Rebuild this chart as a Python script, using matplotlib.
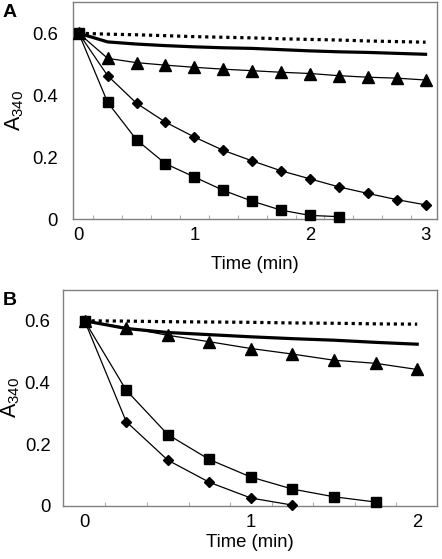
import matplotlib
matplotlib.use('Agg')
import matplotlib.pyplot as plt

plt.rcParams['font.family'] = ['Liberation Sans', 'DejaVu Sans']
plt.rcParams['mathtext.default'] = 'regular'

# panel A data
tA = [0, 0.25, 0.5, 0.75, 1.0, 1.25, 1.5, 1.75, 2.0, 2.25, 2.5, 2.75, 3.0]
a_square = [0.6, 0.377, 0.256, 0.179, 0.136, 0.093, 0.058, 0.029, 0.012, 0.008]
a_diamond = [0.6, 0.463, 0.374, 0.313, 0.265, 0.222, 0.188, 0.156, 0.130, 0.104, 0.083, 0.063, 0.046]
a_triangle = [0.6, 0.519, 0.505, 0.497, 0.490, 0.484, 0.479, 0.474, 0.470, 0.463, 0.458, 0.455, 0.449]
a_solid = [0.6, 0.572, 0.565, 0.560, 0.556, 0.553, 0.551, 0.547, 0.543, 0.540, 0.538, 0.535, 0.532]
a_dotted = [0.6, 0.597, 0.595, 0.592, 0.589, 0.587, 0.585, 0.582, 0.580, 0.578, 0.575, 0.573, 0.571]

# panel B data
tB = [0, 0.25, 0.5, 0.75, 1.0, 1.25, 1.5, 1.75, 2.0]
b_square = [0.6, 0.375, 0.231, 0.150, 0.093, 0.054, 0.029, 0.012]
b_diamond = [0.6, 0.273, 0.148, 0.076, 0.025, 0.002]
b_triangle = [0.6, 0.578, 0.553, 0.532, 0.510, 0.492, 0.472, 0.462, 0.442]
b_solid = [0.6, 0.575, 0.562, 0.555, 0.548, 0.542, 0.537, 0.530, 0.524]
b_dotted = [0.6, 0.599, 0.597, 0.596, 0.595, 0.593, 0.592, 0.590, 0.589]

fig = plt.figure(figsize=(4.42, 5.59), dpi=100)
axA = fig.add_axes([0.165, 0.608, 0.824, 0.388])
axB = fig.add_axes([0.1425, 0.0953, 0.8465, 0.386])

def style(ax, t, sq, di, tr, so, do, xmin, xmax, xt, minor):
    ax.plot(t, do, color='black', lw=2.3, linestyle=(0, (1, 1.2)), zorder=2)
    ax.plot(t, so, color='black', lw=2.3, zorder=2)
    ax.plot(t[:len(tr)], tr, color='black', lw=0.9, marker='^', ms=8, zorder=3, clip_on=False)
    ax.plot(t[:len(di)], di, color='black', lw=0.9, marker='D', ms=5.5, zorder=3, clip_on=False)
    ax.plot(t[:len(sq)], sq, color='black', lw=0.9, marker='s', ms=7, zorder=4, clip_on=False)
    ax.set_xlim(xmin, xmax)
    ax.set_ylim(0, 0.7)
    ax.set_xticks(xt)
    ax.set_xticklabels([str(v) for v in xt])
    ax.set_xticks(minor, minor=True)
    ax.set_yticks([0, 0.2, 0.4, 0.6])
    ax.set_yticklabels(['0', '0.2', '0.4', '0.6'])
    for s in ax.spines.values():
        s.set_color('#808080')
        s.set_linewidth(1.0)
    ax.tick_params(axis='y', length=0, labelsize=13.3)
    ax.tick_params(axis='x', which='major', length=0, labelsize=13.3, pad=6)
    ax.tick_params(axis='x', which='minor', direction='in', length=3, color='#b0b0b0', width=0.8)
    ax.set_ylabel('A$_{340}$', fontsize=15.5)

style(axA, tA, a_square, a_diamond, a_triangle, a_solid, a_dotted, -0.05, 3.1,
      [0, 1, 2, 3], [0.125 + 0.25 * k for k in range(12)])
axA.tick_params(axis='y', pad=11)
axA.set_xlabel('Time (min)', fontsize=13.3, labelpad=8)
axA.yaxis.set_label_coords(-0.13, 0.5)

style(axB, tB, b_square, b_diamond, b_triangle, b_solid, b_dotted, -0.13, 2.12,
      [0, 1, 2], [0.125 + 0.25 * k for k in range(8)])
axB.tick_params(axis='y', pad=9)
axB.set_xlabel('Time (min)', fontsize=13.3, labelpad=2)
axB.yaxis.set_label_coords(-0.11, 0.5)

fig.text(0.006, 0.977, 'A', fontsize=14, fontweight='bold', ha='left', va='center')
fig.text(0.006, 0.463, 'B', fontsize=14, fontweight='bold', ha='left', va='center')

fig.savefig('out.png', dpi=100)
